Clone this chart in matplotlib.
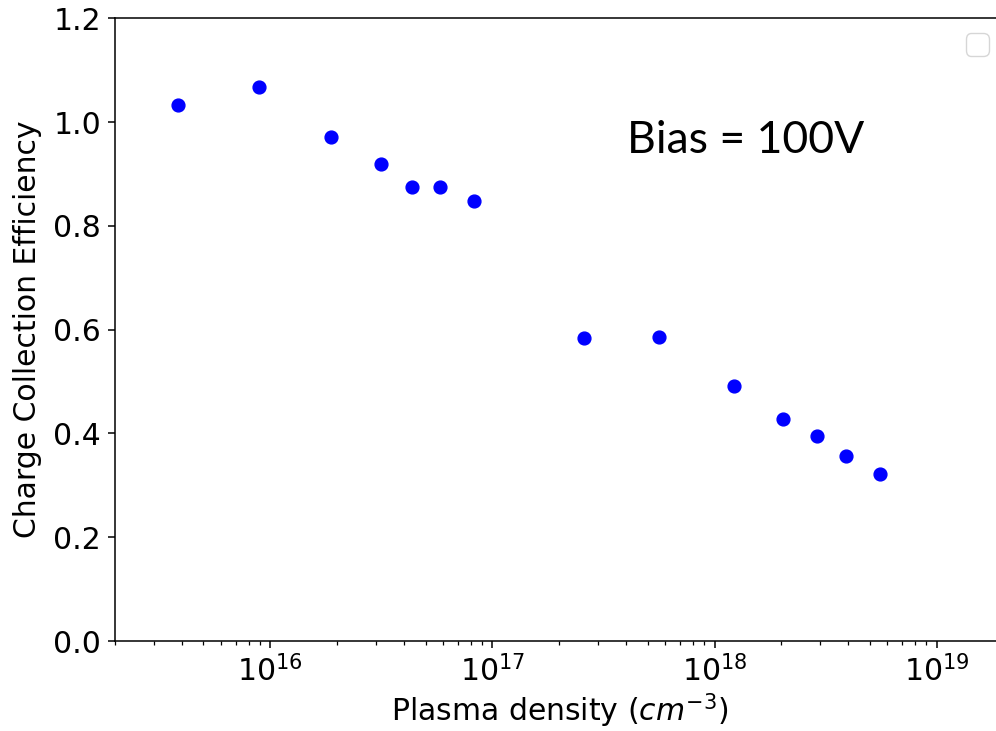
import matplotlib
matplotlib.use("Agg")
import matplotlib.pyplot as plt

# plasma density (cm^-3) and charge collection efficiency
density = [3.86e15, 8.86e15, 1.87e16, 3.14e16, 4.33e16, 5.78e16, 8.24e16,
           2.58e17, 5.61e17, 1.23e18, 2.03e18, 2.89e18, 3.91e18, 5.56e18]
efficiency = [1.032, 1.067, 0.971, 0.919, 0.874, 0.874, 0.848,
              0.584, 0.585, 0.491, 0.428, 0.395, 0.356, 0.322]

fig = plt.figure(figsize=(9.96, 7.31), dpi=100)
ax = fig.add_axes([0.1155, 0.123, 0.892, 0.852])

ax.scatter(density, efficiency, s=85, color="blue", zorder=3)
ax.set_xscale("log")
ax.set_xlim(2e15, 2e19)
ax.set_ylim(0, 1.2)
ax.spines["right"].set_visible(False)
for s in ax.spines.values():
    s.set_linewidth(1.1)

ax.set_xlabel("Plasma density ($cm^{-3}$)", fontsize=21.5, labelpad=3)
ax.set_ylabel("Charge Collection Efficiency", fontsize=21.5, labelpad=8)
ax.tick_params(labelsize=21.5, length=5, width=1.1, pad=5)
ax.tick_params(which="minor", length=3, width=0.9)

leg = ax.legend(handles=[], loc="upper right", fontsize=21)

fig.text(627 / 996, 1 - 153 / 731, "Bias = 100V", fontsize=32, family="Lato",
         va="baseline")

fig.savefig("out.png", dpi=100)
